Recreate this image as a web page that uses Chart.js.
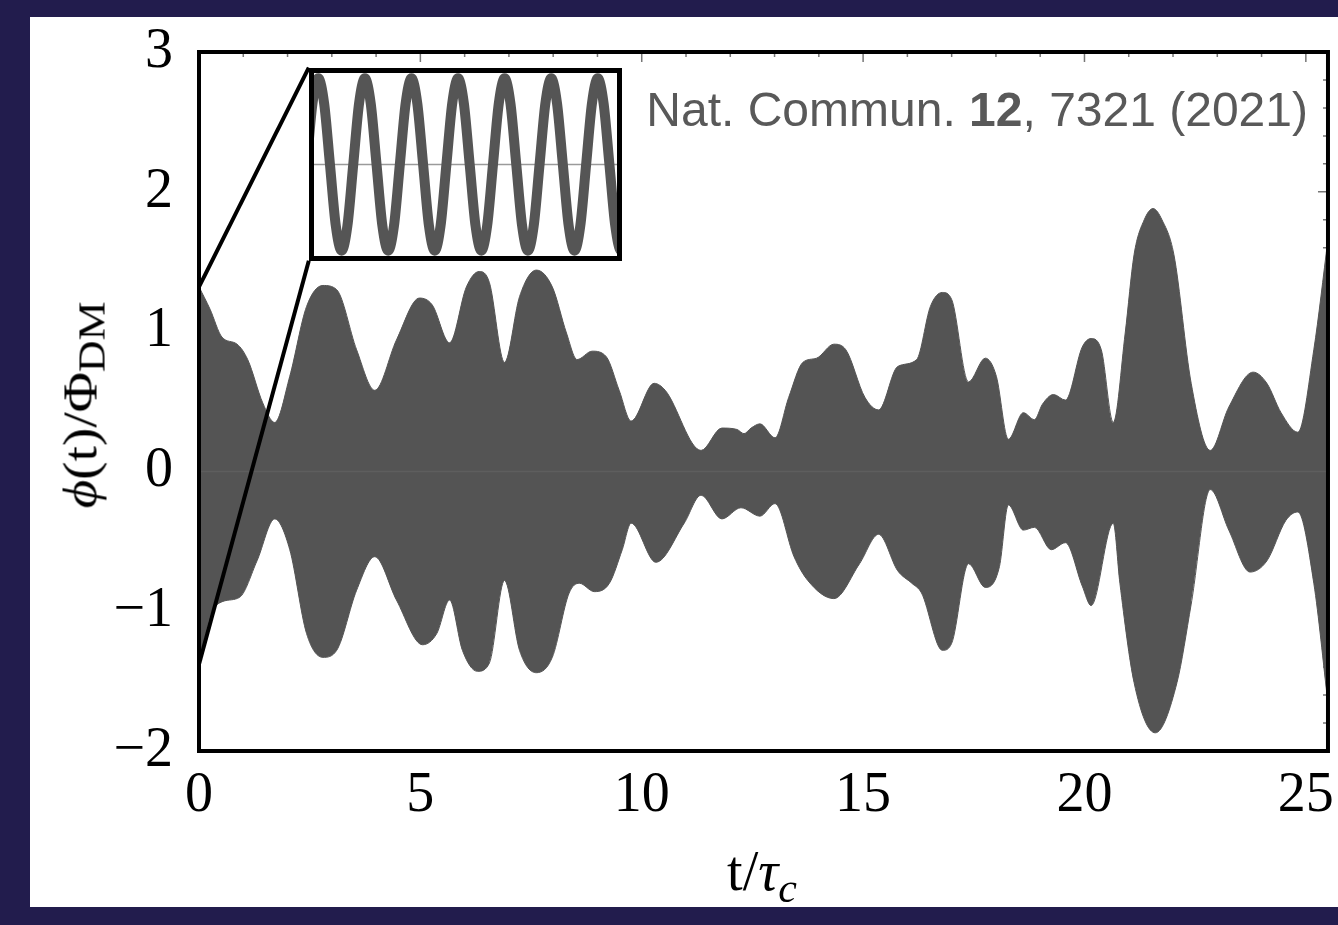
<!DOCTYPE html>
<html lang="en">
<head>
  <meta charset="UTF-8">
  <script src="https://cdn.jsdelivr.net/npm/chart.js"></script>
  <title>phi(t) / Phi_DM</title>
  <style>
    html, body { margin: 0; padding: 0; }
    body { width: 1338px; height: 925px; background: #221c4d; position: relative; overflow: hidden; }
    .sheet { position: absolute; left: 30px; top: 17px; width: 1308px; height: 890px; background: #fff; }
    #main { position: absolute; left: 0; top: 0; }
    #inset { position: absolute; }
    .ytitle {
      position: absolute; left: 82px; top: 405px;
      transform: translate(-50%, -50%) rotate(-90deg) scaleX(1.15);
      font-family: "Liberation Serif", serif; font-size: 48px; line-height: 48px;
      color: #000; white-space: nowrap;
    }
    .xtitle {
      position: absolute; left: 662px; top: 843px; width: 200px; text-align: center;
      font-family: "Liberation Serif", serif; font-size: 56px; line-height: 56px;
      color: #000; white-space: nowrap;
    }
    .sub { position: relative; }
    .ref {
      position: absolute; right: 30px; top: 86px;
      font-family: "Liberation Sans", Arial, sans-serif; font-size: 48px; line-height: 48px;
      color: #595959; white-space: nowrap;
    }
  </style>
</head>
<body>
  <div class="sheet"></div>
  <canvas id="main" width="1338" height="925"></canvas>
  <canvas id="inset" width="10" height="10"></canvas>
  <div class="ytitle"><i>ϕ</i>(t)/Φ<span class="sub" style="font-size:38px; top:8px;">DM</span></div>
  <div class="xtitle">t/<i>τ</i><span class="sub" style="font-size:42px; top:12px;"><i>c</i></span></div>
  <div class="ref">Nat. Commun. <b>12</b>, 7321 (2021)</div>

<script>
// upper envelope of phi(t)/Phi_DM
const tUpper = [0, 0.25, 0.52, 0.86, 1.10, 1.44, 1.71, 2.05, 2.43, 2.80,
  3.11, 3.56, 3.97, 4.46, 4.98, 5.27, 5.66, 6.04, 6.33, 6.56,
  6.90, 7.24, 7.62, 7.98, 8.30, 8.54, 8.88, 9.20, 9.49, 9.76,
  10.28, 10.53, 11.34, 11.81, 12.15, 12.31, 12.47, 12.67, 13.01, 13.32,
  13.64, 13.95, 14.34, 14.61, 15.04, 15.35, 15.78, 16.21, 16.52, 16.79,
  17.00, 17.38, 17.76, 18.01, 18.28, 18.62, 18.87, 19.05, 19.30, 19.57,
  19.95, 20.15, 20.38, 20.65, 20.92, 21.12, 21.35, 21.55, 21.75, 22.02,
  22.41, 22.84, 23.26, 23.81, 24.12, 24.44, 24.82, 25.18, 25.50];
const phiUpper = [1.32, 1.16, 0.96, 0.91, 0.80, 0.49, 0.35, 0.68, 1.18, 1.33,
  1.30, 0.87, 0.58, 0.94, 1.24, 1.19, 0.92, 1.32, 1.43, 1.35,
  0.78, 1.25, 1.44, 1.32, 0.99, 0.80, 0.86, 0.82, 0.58, 0.36,
  0.63, 0.58, 0.15, 0.31, 0.30, 0.27, 0.31, 0.34, 0.24, 0.53,
  0.78, 0.81, 0.91, 0.87, 0.53, 0.44, 0.75, 0.80, 1.18, 1.28,
  1.23, 0.64, 0.81, 0.68, 0.23, 0.42, 0.37, 0.48, 0.55, 0.51,
  0.89, 0.95, 0.87, 0.35, 0.99, 1.55, 1.80, 1.88, 1.80, 1.55,
  0.63, 0.15, 0.46, 0.71, 0.63, 0.42, 0.28, 0.87, 1.66];

// lower envelope
const tLower = [0, 0.25, 0.54, 0.92, 1.31, 1.71, 2.05, 2.43, 2.80, 3.11,
  3.56, 3.97, 4.46, 5.05, 5.37, 5.66, 5.95, 6.29, 6.56, 6.90,
  7.24, 7.62, 7.98, 8.36, 8.59, 8.93, 9.27, 9.56, 9.76, 10.32,
  10.96, 11.34, 11.81, 12.24, 12.67, 13.01, 13.44, 13.75, 14.34, 14.92,
  15.35, 15.78, 16.10, 16.32, 16.79, 17.00, 17.38, 17.76, 18.08, 18.28,
  18.62, 18.87, 19.25, 19.57, 19.95, 20.15, 20.65, 20.80, 21.12, 21.60,
  22.09, 22.41, 22.84, 23.26, 23.74, 24.12, 24.55, 24.82, 25.18, 25.50];
const phiLower = [-1.40, -1.04, -0.93, -0.90, -0.64, -0.34, -0.56, -1.16, -1.33, -1.28,
  -0.85, -0.61, -0.92, -1.24, -1.16, -0.92, -1.28, -1.43, -1.37, -0.78,
  -1.28, -1.44, -1.33, -0.87, -0.80, -0.86, -0.80, -0.56, -0.37, -0.65,
  -0.37, -0.17, -0.34, -0.26, -0.32, -0.23, -0.61, -0.78, -0.91, -0.66,
  -0.45, -0.71, -0.80, -0.87, -1.28, -1.23, -0.66, -0.83, -0.68, -0.24,
  -0.42, -0.40, -0.56, -0.51, -0.82, -0.96, -0.37, -0.80, -1.51, -1.87,
  -1.51, -0.95, -0.13, -0.42, -0.72, -0.64, -0.35, -0.29, -0.80, -1.66];

// zoomed inset: phase in carrier periods, field value
const insetPhase = [-0.25, -0.125, 0, 0.125, 0.25, 0.375, 0.5, 0.625, 0.75, 0.875,
  1, 1.125, 1.25, 1.375, 1.5, 1.625, 1.75, 1.875, 2, 2.125,
  2.25, 2.375, 2.5, 2.625, 2.75, 2.875, 3, 3.125, 3.25, 3.375,
  3.5, 3.625, 3.75, 3.875, 4, 4.125, 4.25, 4.375, 4.5, 4.625,
  4.75, 4.875, 5, 5.125, 5.25, 5.375, 5.5, 5.625, 5.75, 5.875,
  6, 6.125, 6.25, 6.375, 6.5, 6.625, 6.75];
const insetWave = [0, 0.71, 1, 0.71, 0, -0.71, -1, -0.71, 0, 0.71,
  1, 0.71, 0, -0.71, -1, -0.71, 0, 0.71, 1, 0.71,
  0, -0.71, -1, -0.71, 0, 0.71, 1, 0.71, 0, -0.71,
  -1, -0.71, 0, 0.71, 1, 0.71, 0, -0.71, -1, -0.71,
  0, 0.71, 1, 0.71, 0, -0.71, -1, -0.71, 0, 0.71,
  1, 0.71, 0, -0.71, -1, -0.71, 0];

// where the inset sits, in main-axis units
const insetX = [2.48, 9.56];
const insetY = [1.507, 2.888];
// connector start points on the t = 0 edge
const connectY = [1.32, -1.38];

const pts = (xs, ys) => xs.map((x, i) => ({ x: x, y: ys[i] }));
const GRAY = '#545454';
const serif = '"Liberation Serif", "Times New Roman", serif';

function isInt(v) { return Math.abs(v - Math.round(v)) < 1e-6; }

const framePlugin = {
  id: 'frame',
  beforeDatasetsDraw(chart) {
    const { ctx, chartArea: a, scales: { x, y } } = chart;
    ctx.save();
    ctx.strokeStyle = '#777';
    ctx.lineWidth = 1.5;
    ctx.beginPath();
    x.ticks.forEach(t => {
      if (!isInt(t.value)) return;
      const px = x.getPixelForValue(t.value);
      const len = Math.round(t.value) % 5 === 0 ? 10 : 5;
      ctx.moveTo(px, a.top); ctx.lineTo(px, a.top + len);
    });
    y.ticks.forEach(t => {
      const py = y.getPixelForValue(t.value);
      const len = isInt(t.value) ? 10 : 5;
      ctx.moveTo(a.right, py); ctx.lineTo(a.right - len, py);
    });
    ctx.stroke();
    ctx.restore();
  },
  afterDraw(chart) {
    const { ctx, chartArea: a } = chart;
    ctx.save();
    ctx.strokeStyle = '#000';
    ctx.lineWidth = 4;
    ctx.strokeRect(a.left, a.top, a.right - a.left, a.bottom - a.top);
    ctx.restore();
  }
};

const mainChart = new Chart(document.getElementById('main'), {
  type: 'line',
  data: {
    datasets: [
      {
        data: pts(tUpper, phiUpper), fill: 'origin', backgroundColor: GRAY,
        borderColor: GRAY, borderWidth: 1, pointRadius: 0,
        cubicInterpolationMode: 'monotone', order: 3
      },
      {
        data: pts(tLower, phiLower), fill: 'origin', backgroundColor: GRAY,
        borderColor: GRAY, borderWidth: 1, pointRadius: 0,
        cubicInterpolationMode: 'monotone', order: 3
      },
      {
        data: [{ x: 0, y: 0 }, { x: 25.5, y: 0 }], borderColor: '#5e5e5e',
        borderWidth: 1.5, pointRadius: 0, tension: 0, fill: false, order: 2
      },
      {
        data: [{ x: 0, y: connectY[0] }, { x: insetX[0], y: insetY[1] }], borderColor: '#000',
        borderWidth: 4, pointRadius: 0, tension: 0, fill: false, order: 1
      },
      {
        data: [{ x: 0, y: connectY[1] }, { x: insetX[0], y: insetY[0] }], borderColor: '#000',
        borderWidth: 4, pointRadius: 0, tension: 0, fill: false, order: 1
      }
    ]
  },
  options: {
    responsive: false,
    animation: false,
    events: [],
    layout: { padding: { left: 0, top: 52, right: 8, bottom: 0 } },
    plugins: { legend: { display: false }, tooltip: { enabled: false } },
    scales: {
      x: {
        type: 'linear', min: 0, max: 25.5,
        grid: { display: false }, border: { display: false },
        afterFit: s => { s.height = 174; },
        ticks: {
          stepSize: 1, includeBounds: false, autoSkip: false, maxRotation: 0, minRotation: 0,
          padding: 4, color: '#000', font: { family: serif, size: 56 },
          callback: v => (isInt(v) && Math.round(v) % 5 === 0) ? String(Math.round(v)) : ''
        }
      },
      y: {
        type: 'linear', min: -2, max: 3,
        grid: { display: false }, border: { display: false },
        afterFit: s => { s.width = 199; },
        ticks: {
          stepSize: 0.2, autoSkip: false, padding: 18, color: '#000',
          font: { family: serif, size: 56 },
          callback: v => {
            if (!isInt(v)) return '';
            const n = Math.round(v);
            return n < 0 ? '\u2212' + Math.abs(n) : String(n);
          }
        }
      }
    }
  },
  plugins: [framePlugin]
});

// put the inset canvas on the box given in main-axis units
const sx = mainChart.scales.x, sy = mainChart.scales.y;
const bx0 = sx.getPixelForValue(insetX[0]), bx1 = sx.getPixelForValue(insetX[1]);
const by0 = sy.getPixelForValue(insetY[1]), by1 = sy.getPixelForValue(insetY[0]);
const insetCanvas = document.getElementById('inset');
insetCanvas.width = Math.round(bx1 - bx0);
insetCanvas.height = Math.round(by1 - by0);
insetCanvas.style.left = Math.round(bx0) + 'px';
insetCanvas.style.top = Math.round(by0) + 'px';

const insetBorder = {
  id: 'insetBorder',
  afterDraw(chart) {
    const ctx = chart.ctx;
    ctx.save();
    ctx.strokeStyle = '#000';
    ctx.lineWidth = 5;
    ctx.strokeRect(2.5, 2.5, chart.width - 5, chart.height - 5);
    ctx.restore();
  }
};

new Chart(insetCanvas, {
  type: 'line',
  data: {
    datasets: [
      {
        data: [{ x: -0.2, y: 0 }, { x: 6.52, y: 0 }], borderColor: '#9a9a9a',
        borderWidth: 1.5, pointRadius: 0, tension: 0, fill: false, order: 2
      },
      {
        data: pts(insetPhase, insetWave), borderColor: '#555', borderWidth: 10,
        pointRadius: 0, cubicInterpolationMode: 'monotone', fill: false, order: 1
      }
    ]
  },
  options: {
    responsive: false,
    animation: false,
    events: [],
    layout: { padding: 0 },
    plugins: { legend: { display: false }, tooltip: { enabled: false } },
    scales: {
      x: { type: 'linear', min: -0.2, max: 6.52, display: false },
      y: { type: 'linear', min: -1.12, max: 1.12, display: false }
    }
  },
  plugins: [insetBorder]
});
</script>
</body>
</html>
